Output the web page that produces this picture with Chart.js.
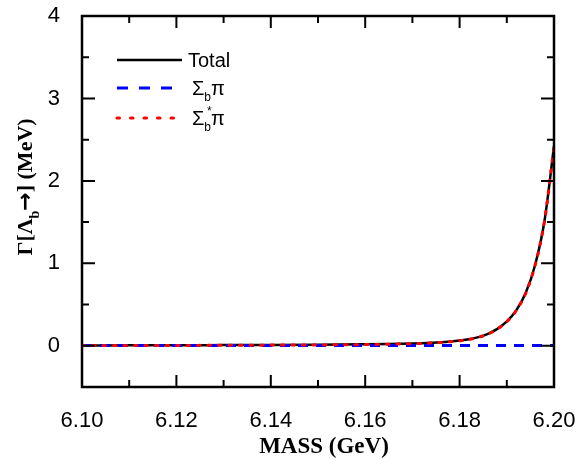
<!DOCTYPE html>
<html>
<head>
<meta charset="utf-8">
<script src="https://cdn.jsdelivr.net/npm/chart.js@4.4.0/dist/chart.umd.min.js"></script>
<style>
  html, body { margin: 0; padding: 0; background: #fff; }
  #wrap { width: 580px; height: 459px; }
</style>
</head>
<body>
<div id="wrap"><canvas id="graph1" width="580" height="459"></canvas></div>
<script>
// data
var massArray = [6.100, 6.110, 6.120, 6.130, 6.140, 6.150, 6.160, 6.165, 6.170, 6.172, 6.174, 6.176, 6.178, 6.180, 6.182, 6.184, 6.186, 6.188, 6.190, 6.192, 6.194, 6.196, 6.198, 6.200];
var totalArray = [0.004, 0.005, 0.006, 0.008, 0.010, 0.013, 0.018, 0.022, 0.028, 0.032, 0.037, 0.043, 0.052, 0.064, 0.080, 0.105, 0.145, 0.205, 0.295, 0.430, 0.640, 0.980, 1.520, 2.420];
var sigmaPiArray = [0.002, 0.002, 0.002, 0.002, 0.002, 0.003, 0.003, 0.003, 0.003, 0.003, 0.003, 0.003, 0.003, 0.003, 0.003, 0.003, 0.003, 0.003, 0.003, 0.003, 0.003, 0.003, 0.003, 0.003];
var sigmaStarPiArray = [0.002, 0.003, 0.004, 0.006, 0.008, 0.010, 0.015, 0.019, 0.025, 0.029, 0.034, 0.040, 0.049, 0.061, 0.077, 0.102, 0.142, 0.202, 0.292, 0.427, 0.637, 0.977, 1.517, 2.417];

var xMin = 6.10, xMax = 6.20, xMajor = 0.02, xMinor = 0.01;
var yMin = -0.5, yMax = 4, yMajor = 1, yMinor = 0.5;

var sansFont = "'Liberation Sans', Arial, sans-serif";
var serifFont = "'Liberation Serif', 'Times New Roman', serif";

function toPoints(xs, ys){
    var pts = [];
    xs.forEach((x, i) => {
        pts.push({x: x, y: ys[i]});
    });
    return pts;
}

// legend entries: drawn by hand because of the subscripts
var legendItems = [
    {color: "#000000", dash: [], width: 2.5, parts: [["Total", ""]]},
    {color: "#0000ff", dash: [11, 11], width: 3, parts: [["\u03A3", ""], ["b", "sub"], ["\u03C0", ""]]},
    {color: "#ff0000", dash: [2.5, 11], width: 3, parts: [["\u03A3", ""], ["b", "sub"], ["*", "sup"], ["\u03C0", ""]]}
];

function drawParts(ctx, parts, x, y, size, family, weight){
    parts.forEach(p => {
        var fam = p[2] || family;
        if(p[1] == "sub"){
            ctx.font = weight + " " + Math.round(size * 0.62) + "px " + fam;
            ctx.fillText(p[0], x, y + size * 0.3);
            x += ctx.measureText(p[0]).width;
        }else if(p[1] == "sup"){
            ctx.font = weight + " " + Math.round(size * 0.62) + "px " + fam;
            ctx.fillText(p[0], x - ctx.measureText("b").width * 0.6, y - size * 0.5);
        }else{
            ctx.font = weight + " " + size + "px " + fam;
            ctx.fillText(p[0], x, y);
            x += ctx.measureText(p[0]).width;
        }
    });
    return x;
}

function partsWidth(ctx, parts, size, family, weight){
    var w = 0;
    parts.forEach(p => {
        if(p[1] == "sup") return;
        var fam = p[2] || family;
        ctx.font = weight + " " + (p[1] == "sub" ? Math.round(size * 0.62) : size) + "px " + fam;
        w += ctx.measureText(p[0]).width;
    });
    return w;
}

var framePlugin = {
    id: "framePlugin",
    afterDraw(chart){
        var ctx = chart.ctx;
        var area = chart.chartArea;
        var xs = chart.scales.x, ys = chart.scales.y;
        ctx.save();
        ctx.strokeStyle = "#000";
        ctx.lineWidth = 2.5;
        ctx.setLineDash([]);
        ctx.strokeRect(area.left, area.top, area.right - area.left, area.bottom - area.top);

        // inward ticks on all four sides
        ctx.lineWidth = 2;
        ctx.beginPath();
        for(var i = 0; i <= Math.round((xMax - xMin) / xMinor); i++){
            var v = xMin + i * xMinor;
            var px = xs.getPixelForValue(v);
            var len = (i % 2 == 0) ? 12 : 7;
            ctx.moveTo(px, area.bottom); ctx.lineTo(px, area.bottom - len);
            ctx.moveTo(px, area.top); ctx.lineTo(px, area.top + len);
        }
        for(var j = 0; j <= Math.round((yMax - yMin) / yMinor); j++){
            var yv = yMin + j * yMinor;
            var py = ys.getPixelForValue(yv);
            var ylen = (Math.abs(yv - Math.round(yv)) < 1e-6) ? 13 : 7;
            ctx.moveTo(area.left, py); ctx.lineTo(area.left + ylen, py);
            ctx.moveTo(area.right, py); ctx.lineTo(area.right - ylen, py);
        }
        ctx.stroke();

        // legend
        var rowY = [60, 88, 118];
        legendItems.forEach((item, k) => {
            ctx.strokeStyle = item.color;
            ctx.lineWidth = item.width;
            ctx.setLineDash(item.dash);
            ctx.lineCap = item.dash.length && item.dash[0] < 4 ? "round" : "butt";
            ctx.beginPath();
            ctx.moveTo(117, rowY[k]);
            ctx.lineTo(182, rowY[k]);
            ctx.stroke();
            ctx.setLineDash([]);
            ctx.lineCap = "butt";
            ctx.fillStyle = "#000";
            ctx.textBaseline = "alphabetic";
            ctx.textAlign = "left";
            var tx = k == 0 ? 188 : 192;
            drawParts(ctx, item.parts, tx, rowY[k] + 7, 20, sansFont, "normal");
        });

        // x title
        ctx.fillStyle = "#000";
        ctx.font = "bold 23px " + serifFont;
        ctx.textAlign = "center";
        ctx.fillText("MASS (GeV)", (area.left + area.right) / 2 + 6, 453);

        // y title, rotated
        var yParts = [["\u0393[\u039B", ""], ["b", "sub"], ["\u2192", "", "'DejaVu Sans', sans-serif"], ["] (MeV)", ""]];
        ctx.translate(32, 187);
        ctx.rotate(-Math.PI / 2);
        ctx.textAlign = "left";
        var w = partsWidth(ctx, yParts, 22, serifFont, "bold");
        drawParts(ctx, yParts, -w / 2, 0, 22, serifFont, "bold");
        ctx.restore();
    }
};

var ctx = document.getElementById("graph1").getContext("2d");

var config = {
    type: "line",
    data: {
        datasets: [
            {
                label: "Sigma_b* pi",
                data: toPoints(massArray, sigmaStarPiArray),
                borderColor: "#ff0000",
                borderWidth: 3,
                borderDash: [2.5, 8],
                borderCapStyle: "round",
                pointRadius: 0,
                cubicInterpolationMode: "monotone",
                order: 1
            },
            {
                label: "Sigma_b pi",
                data: toPoints(massArray, sigmaPiArray),
                borderColor: "#0000ff",
                borderWidth: 3,
                borderDash: [10, 8],
                pointRadius: 0,
                cubicInterpolationMode: "monotone",
                order: 2
            },
            {
                label: "Total",
                data: toPoints(massArray, totalArray),
                borderColor: "#000000",
                borderWidth: 2.5,
                pointRadius: 0,
                cubicInterpolationMode: "monotone",
                order: 3
            }
        ]
    },
    options: {
        responsive: false,
        animation: false,
        devicePixelRatio: 1,
        layout: {padding: {top: 16, right: 26, left: 0, bottom: 0}},
        plugins: {legend: {display: false}, tooltip: {enabled: false}},
        scales: {
            x: {
                type: "linear",
                min: xMin,
                max: xMax,
                grid: {display: false},
                border: {display: false},
                afterFit: scale => { scale.height = 72; scale.paddingLeft = 0; scale.paddingRight = 0; },
                ticks: {
                    stepSize: xMajor,
                    padding: 13,
                    color: "#000",
                    maxRotation: 0,
                    font: {family: sansFont, size: 22},
                    callback: value => value.toFixed(2)
                }
            },
            y: {
                type: "linear",
                min: yMin,
                max: yMax,
                grid: {display: false},
                border: {display: false},
                afterFit: scale => { scale.width = 82; scale.paddingTop = 0; scale.paddingBottom = 0; },
                ticks: {
                    stepSize: yMinor,
                    padding: 14,
                    color: "#000",
                    font: {family: sansFont, size: 22},
                    callback: value => Math.abs(value - Math.round(value)) < 1e-6 ? String(Math.round(value)) : ""
                }
            }
        }
    },
    plugins: [framePlugin]
};

var graph1 = new Chart(ctx, config);
</script>
</body>
</html>
